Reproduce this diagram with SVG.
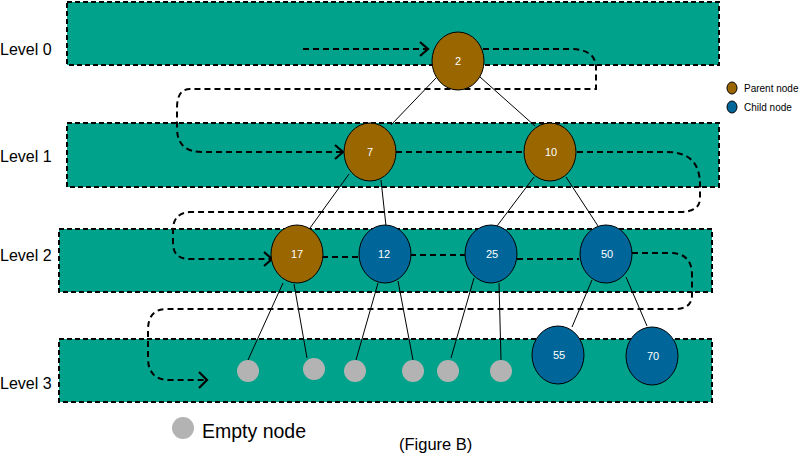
<svg xmlns="http://www.w3.org/2000/svg" width="800" height="458" viewBox="0 0 800 458">
<defs>
<style>
.band{fill:#00A28C;stroke:#000;stroke-width:2;stroke-dasharray:5 3}
.trav{fill:none;stroke:#000;stroke-width:2;stroke-dasharray:6 4}
.chev{fill:none;stroke:#000;stroke-width:2.2}
.edge{stroke:#000;stroke-width:1;fill:none}
.parent{fill:#996600;stroke:#000;stroke-width:1}
.child{fill:#006699;stroke:#000;stroke-width:1}
.empty{fill:#B3B3B3}
.nl{font-family:"Liberation Sans",Arial,sans-serif;font-size:11px;fill:#fff;text-anchor:middle}
.lvl{font-family:"Liberation Sans",Arial,sans-serif;font-size:16px;fill:#000}
.leg{font-family:"Liberation Sans",Arial,sans-serif;font-size:10px;fill:#000}
</style>
</defs>
<rect width="800" height="458" fill="#fff"/>
<g id="bands">
<rect class="band" x="67" y="2" width="652" height="63"/>
<rect class="band" x="67" y="123" width="652" height="64"/>
<rect class="band" x="59" y="229" width="653" height="63"/>
<rect class="band" x="59" y="339" width="653" height="63"/>
</g>
<g id="level-labels">
<text class="lvl" x="0" y="55">Level 0</text>
<text class="lvl" x="0" y="162">Level 1</text>
<text class="lvl" x="0" y="261">Level 2</text>
<text class="lvl" x="0" y="389">Level 3</text>
</g>
<g id="connectors">
<path class="trav" d="M303,49 H427"/>
<path class="chev" d="M420,42 L428,49 L420,56"/>
<path class="trav" d="M483,49 H570 Q596,49 596,68 V89 H190 Q177,89 177,108 V128 Q177,152 202,152 H342"/>
<path class="chev" d="M335,145 L343,152 L335,159"/>
<path class="trav" d="M396,152 H523"/>
<path class="trav" d="M577,152 H667 Q700,152 700,185 V198 Q700,212 680,212 H190 Q173,213 173,230 V243 Q173,259 190,259 H271"/>
<path class="chev" d="M264,252 L272,259 L264,266"/>
<path class="trav" d="M322,257 H359"/>
<path class="trav" d="M410,255 H465"/>
<path class="trav" d="M517,259 H579"/>
<path class="trav" d="M632,253 H670 Q692,253 692,275 V295 Q692,309 675,309 H165 Q148,310 148,330 V358 Q148,380 170,380 H206"/>
<path class="chev" d="M199,372 L207,380 L199,388"/>
<line class="edge" x1="436" y1="78" x2="391" y2="125"/>
<line class="edge" x1="480" y1="77" x2="535" y2="126"/>
<line class="edge" x1="349" y1="174" x2="310" y2="228"/>
<line class="edge" x1="381" y1="180" x2="386" y2="226"/>
<line class="edge" x1="534" y1="177" x2="497" y2="226"/>
<line class="edge" x1="566" y1="177" x2="598" y2="226"/>
<line class="edge" x1="283" y1="283" x2="248" y2="360"/>
<line class="edge" x1="294" y1="284" x2="307" y2="358"/>
<line class="edge" x1="378" y1="283" x2="356" y2="360"/>
<line class="edge" x1="398" y1="281" x2="413" y2="360"/>
<line class="edge" x1="474" y1="278" x2="451" y2="358"/>
<line class="edge" x1="499" y1="283" x2="501" y2="360"/>
<line class="edge" x1="592" y1="280" x2="572" y2="327"/>
<line class="edge" x1="626" y1="277" x2="647" y2="326"/>
</g>
<g id="node-2"><ellipse class="parent" cx="458" cy="61" rx="26" ry="29"/><text class="nl" x="458" y="65">2</text></g>
<g id="node-7"><ellipse class="parent" cx="370" cy="152" rx="26" ry="29"/><text class="nl" x="370" y="156">7</text></g>
<g id="node-10"><ellipse class="parent" cx="550" cy="152" rx="26" ry="29"/><text class="nl" x="551" y="156">10</text></g>
<g id="node-17"><ellipse class="parent" cx="297" cy="254" rx="26" ry="29"/><text class="nl" x="297" y="258">17</text></g>
<g id="node-12"><ellipse class="child" cx="385" cy="254" rx="26" ry="29"/><text class="nl" x="384" y="258">12</text></g>
<g id="node-25"><ellipse class="child" cx="491" cy="254" rx="26" ry="29"/><text class="nl" x="492" y="258">25</text></g>
<g id="node-50"><ellipse class="child" cx="606" cy="254" rx="26" ry="29"/><text class="nl" x="607" y="258">50</text></g>
<g id="node-55"><ellipse class="child" cx="558" cy="355" rx="26" ry="29"/><text class="nl" x="559" y="359">55</text></g>
<g id="node-70"><ellipse class="child" cx="652" cy="356" rx="26" ry="29"/><text class="nl" x="653" y="360">70</text></g>
<g id="empty-1"><circle class="empty" cx="248" cy="371" r="11"/></g>
<g id="empty-2"><circle class="empty" cx="314" cy="369" r="11"/></g>
<g id="empty-3"><circle class="empty" cx="355" cy="371" r="11"/></g>
<g id="empty-4"><circle class="empty" cx="413" cy="371" r="11"/></g>
<g id="empty-5"><circle class="empty" cx="448" cy="371" r="11"/></g>
<g id="empty-6"><circle class="empty" cx="501" cy="371" r="11"/></g>
<g id="legend">
<ellipse class="parent" cx="732" cy="88" rx="5" ry="6"/>
<text class="leg" x="744" y="92">Parent node</text>
<ellipse class="child" cx="732" cy="107" rx="5" ry="6"/>
<text class="leg" x="744" y="111">Child node</text>
<circle class="empty" cx="183" cy="428" r="11"/>
<text x="202" y="438" font-family="'Liberation Sans',Arial,sans-serif" font-size="19.5" fill="#000">Empty node</text>
<text x="399" y="450" font-family="'Liberation Sans',Arial,sans-serif" font-size="16.5" fill="#000">(Figure B)</text>
</g>
</svg>
